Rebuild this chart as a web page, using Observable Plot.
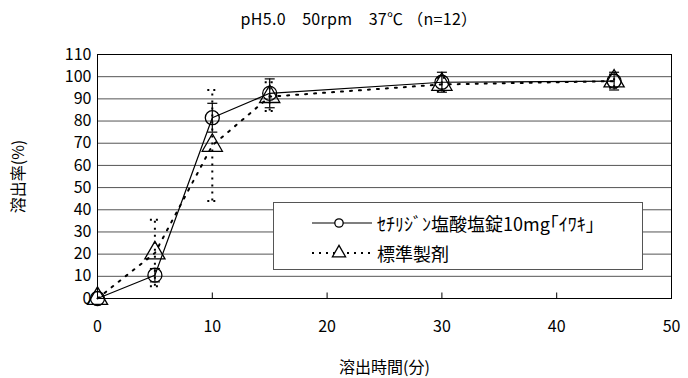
<!DOCTYPE html>
<html>
<head>
<meta charset="utf-8">
<script src="https://cdn.jsdelivr.net/npm/d3@7"></script>
<script src="https://cdn.jsdelivr.net/npm/@observablehq/plot@0.6"></script>
<style>
  html, body { margin: 0; padding: 0; background: #fff; }
  #wrap { position: relative; width: 688px; height: 378px; font-family: "Noto Sans CJK JP", sans-serif; color: #000; }
  #title { position: absolute; top: 6px; left: 0; width: 718px; text-align: center; font-size: 16px; letter-spacing: 0.3px; }
  #legend { position: absolute; left: 273px; top: 202px; width: 368px; height: 66px; border: 1px solid #555; background: #fff; }
  .row { position: absolute; left: 0; height: 24px; display: flex; align-items: center; font-size: 18px; white-space: nowrap; }
  .row svg { margin-left: 37px; margin-right: 4px; }
</style>
</head>
<body>
<div id="wrap">
  <div id="title">pH5.0　50rpm　37℃ （n=12）</div>
  <div id="chart"></div>
  <div id="legend"></div>
</div>
<script>
const times = [0, 5, 10, 15, 30, 45];
const testMean = [0, 10.5, 81.5, 92.5, 97.5, 98];
const testSD = [0, 3, 6.5, 6.5, 4.5, 4];
const refMean = [0, 20.5, 69, 91, 96.5, 98];
const refSD = [0, 15, 25, 6.5, 3, 3];
const seriesNames = ["ｾﾁﾘｼﾞﾝ塩酸塩錠10mg｢ｲﾜｷ｣", "標準製剤"];
const xTicks = [0, 10, 20, 30, 40, 50];
const yTicks = [0, 10, 20, 30, 40, 50, 60, 70, 80, 90, 100, 110];

const test = times.map((t, i) => ({t, m: testMean[i], sd: testSD[i]}));
const ref = times.map((t, i) => ({t, m: refMean[i], sd: refSD[i]}));

const hCap = {draw(ctx) { ctx.moveTo(-5, 0); ctx.lineTo(5, 0); }};
const vTick = {draw(ctx) { ctx.moveTo(0, 0); ctx.lineTo(0, -6); }};

const chart = Plot.plot({
  width: 688,
  height: 378,
  marginLeft: 97,
  marginRight: 17,
  marginTop: 54,
  marginBottom: 80,
  style: {fontFamily: "'Noto Sans CJK JP', sans-serif", fontSize: "16px", background: "#fff", overflow: "visible"},
  x: {domain: [0, 50]},
  y: {domain: [0, 110]},
  marks: [
    Plot.ruleY(yTicks.slice(1, -1), {stroke: "#555", strokeWidth: 1}),
    Plot.frame({stroke: "#000", strokeWidth: 1}),
    Plot.dot(xTicks.slice(1, -1), {x: d => d, y: () => 0, symbol: vTick, stroke: "#000", strokeWidth: 1}),
    // reference error bars (dotted)
    Plot.ruleX(ref.filter(d => d.sd > 0), {x: "t", y1: d => d.m - d.sd, y2: d => d.m + d.sd, stroke: "#000", strokeWidth: 2, strokeDasharray: "2,5"}),
    Plot.dot(ref.filter(d => d.sd > 0), {x: "t", y: d => d.m - d.sd, symbol: hCap, stroke: "#000", strokeWidth: 2, strokeDasharray: "2,4"}),
    Plot.dot(ref.filter(d => d.sd > 0), {x: "t", y: d => d.m + d.sd, symbol: hCap, stroke: "#000", strokeWidth: 2, strokeDasharray: "2,4"}),
    // test error bars (solid)
    Plot.ruleX(test.filter(d => d.sd > 0), {x: "t", y1: d => d.m - d.sd, y2: d => d.m + d.sd, stroke: "#000", strokeWidth: 1.2}),
    Plot.dot(test.filter(d => d.sd > 0), {x: "t", y: d => d.m - d.sd, symbol: hCap, stroke: "#000", strokeWidth: 1.2}),
    Plot.dot(test.filter(d => d.sd > 0), {x: "t", y: d => d.m + d.sd, symbol: hCap, stroke: "#000", strokeWidth: 1.2}),
    // lines
    Plot.line(ref, {x: "t", y: "m", stroke: "#000", strokeWidth: 2, strokeDasharray: "2,7"}),
    Plot.line(test, {x: "t", y: "m", stroke: "#000", strokeWidth: 1.2}),
    // markers
    Plot.dot(ref, {x: "t", y: "m", symbol: "triangle", r: 7.5, stroke: "#000", strokeWidth: 1.3, fill: "none"}),
    Plot.dot(test, {x: "t", y: "m", symbol: "circle", r: 7, stroke: "#000", strokeWidth: 1.3, fill: "none"}),
    Plot.axisY({ticks: yTicks, tickSize: 0, tickPadding: 6, label: "溶出率(%)", labelAnchor: "center", labelArrow: "none", labelOffset: 85, fontSize: 16}),
    Plot.axisX({ticks: xTicks, tickSize: 0, tickPadding: 22, label: "溶出時間(分)", labelAnchor: "center", labelArrow: "none", labelOffset: 74, fontSize: 16})
  ]
});
document.getElementById("chart").appendChild(chart);

// legend
const legend = document.getElementById("legend");
const samples = [
  {name: seriesNames[0], dash: null, sw: 1.2, symbol: d3.symbolCircle},
  {name: seriesNames[1], dash: "2,5", sw: 2, symbol: d3.symbolTriangle}
];
samples.forEach((s, i) => {
  const row = document.createElement("div");
  row.className = "row";
  row.style.top = (8 + i * 30) + "px";
  const ns = "http://www.w3.org/2000/svg";
  const svg = document.createElementNS(ns, "svg");
  svg.setAttribute("width", 62);
  svg.setAttribute("height", 20);
  const line = document.createElementNS(ns, "line");
  line.setAttribute("x1", 1); line.setAttribute("x2", 61);
  line.setAttribute("y1", 10); line.setAttribute("y2", 10);
  line.setAttribute("stroke", "#000");
  line.setAttribute("stroke-width", s.sw);
  if (s.dash) line.setAttribute("stroke-dasharray", s.dash);
  svg.appendChild(line);
  const path = document.createElementNS(ns, "path");
  path.setAttribute("d", d3.symbol(s.symbol, i === 0 ? 55 : 75)());
  path.setAttribute("transform", "translate(28,10)");
  path.setAttribute("fill", "#fff");
  path.setAttribute("stroke", "#000");
  path.setAttribute("stroke-width", 1.3);
  svg.appendChild(path);
  row.appendChild(svg);
  const span = document.createElement("span");
  span.textContent = s.name;
  row.appendChild(span);
  legend.appendChild(row);
});
</script>
</body>
</html>
